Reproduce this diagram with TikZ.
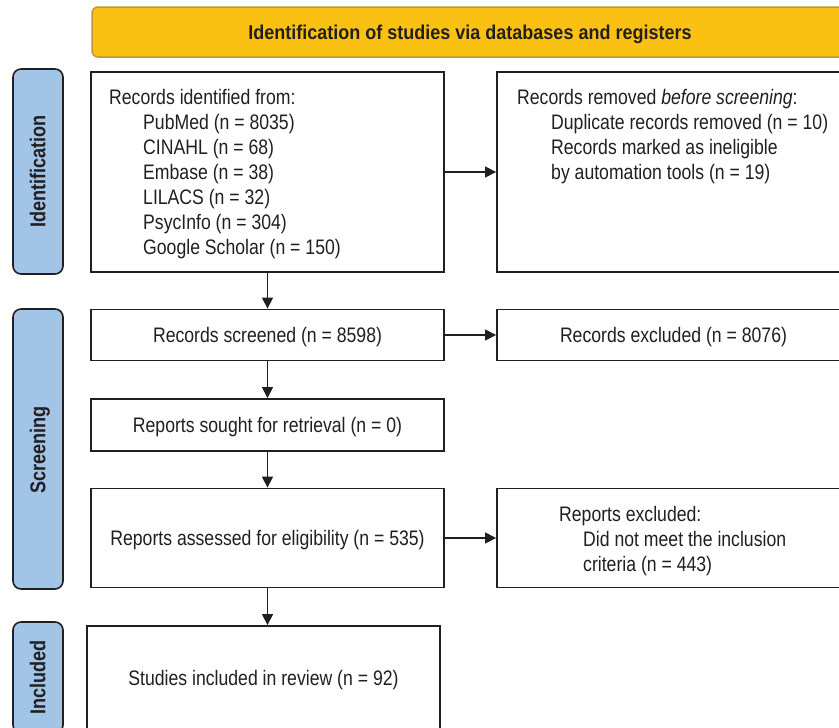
\documentclass[tikz,border=0pt]{standalone}
\usepackage{fontspec}
\setmainfont{Liberation Sans}[FakeStretch=0.84]
\newfontfamily\hdrfont{Liberation Sans}[FakeStretch=0.9]
\newfontfamily\sidefont{Liberation Sans}[FakeStretch=0.84]
\usetikzlibrary{arrows.meta}
\definecolor{ink}{HTML}{231F20}
\definecolor{hdrfill}{HTML}{FBC112}
\definecolor{hdrline}{HTML}{C2953A}
\definecolor{sidefill}{HTML}{A2C4E6}
\begin{document}
\begin{tikzpicture}[x=1pt,y=-1pt,
  box/.style={draw=ink, line width=1.8pt, fill=white, inner sep=0pt, rectangle},
  txt/.style={text=ink, font=\fontsize{21}{25}\selectfont, inner sep=0pt, align=left, text depth=0pt},
  side/.style={draw=ink, line width=1.6pt, fill=sidefill, rounded corners=8pt, inner sep=0pt},
  sidelabel/.style={text=ink, font=\sidefont\fontsize{21.5}{24}\selectfont\bfseries, rotate=90, inner sep=0pt, text depth=0pt},
  arr/.style={draw=ink, line width=1.3pt, -{Triangle[length=11pt,width=11pt]}},
]
\useasboundingbox (0,0) rectangle (839,728);
\begin{scope}
\clip (0,0) rectangle (839,728);
% header
\node[draw=hdrline, fill=hdrfill, line width=1.5pt, rounded corners=6pt,
      minimum width=756pt, minimum height=50pt, inner sep=0pt, text depth=0pt,
      text=ink, font=\hdrfont\fontsize{20}{22}\selectfont\bfseries] (hdr) at (470,32)
      {Identification of studies via databases and registers};
% side boxes
\node[side, minimum width=50pt, minimum height=205pt] (sideid) at (38,171.5) {};
\node[sidelabel] (sideidl) at (37.5,171.5) {Identification};
\node[side, minimum width=50pt, minimum height=280pt] (sidescr) at (38,449) {};
\node[sidelabel] (sidescrl) at (37.5,450) {Screening};
\node[side, minimum width=50pt, minimum height=111pt] (sideinc) at (38,677.5) {};
\node[sidelabel] (sideincl) at (37.5,677.5) {Included};
% main boxes
\node[box, minimum width=352.5pt, minimum height=200pt] (ident) at (267.5,172) {};
\node[txt, anchor=west] (identt) at (109,172) {Records identified from:\\
\hspace*{34pt}PubMed (n = 8035)\\
\hspace*{34pt}CINAHL (n = 68)\\
\hspace*{34pt}Embase (n = 38)\\
\hspace*{34pt}LILACS (n = 32)\\
\hspace*{34pt}PsycInfo (n = 304)\\
\hspace*{34pt}Google Scholar (n = 150)};
\node[box, minimum width=353pt, minimum height=200pt] (removed) at (673.5,172) {};
\node[txt, anchor=west] (removedt) at (517,134.5) {Records removed \textit{before screening}:\\
\hspace*{34pt}Duplicate records removed (n = 10)\\
\hspace*{34pt}Records marked as ineligible\\
\hspace*{34pt}by automation tools (n = 19)};
\node[box, minimum width=352.5pt, minimum height=51pt, txt] (screened) at (267.5,335) {Records screened (n = 8598)};
\node[box, minimum width=353pt, minimum height=51pt, txt] (excl1) at (673.5,335) {Records excluded (n = 8076)};
\node[box, minimum width=352.5pt, minimum height=52pt, txt] (sought) at (267.5,425) {Reports sought for retrieval (n = 0)};
\node[box, minimum width=352.5pt, minimum height=99pt, txt] (assessed) at (267.5,538) {Reports assessed for eligibility (n = 535)};
\node[box, minimum width=353pt, minimum height=99pt] (excl2) at (673.5,538) {};
\node[txt, anchor=west] (excl2t) at (559,539) {Reports excluded:\\
\hspace*{24pt}Did not meet the inclusion\\
\hspace*{24pt}criteria (n = 443)};
\node[box, minimum width=353pt, minimum height=104pt, txt] (included) at (263.5,678) {Studies included in review (n = 92)};
% connectors
\draw[arr] (ident.south) -- (screened.north);
\draw[arr] (screened.south) -- (sought.north);
\draw[arr] (sought.south) -- (assessed.north);
\draw[arr] (assessed.south) -- (assessed.south |- included.north);
\draw[arr] (ident.east) -- (removed.west);
\draw[arr] (screened.east) -- (excl1.west);
\draw[arr] (assessed.east) -- (excl2.west);
\end{scope}
\end{tikzpicture}
\end{document}
